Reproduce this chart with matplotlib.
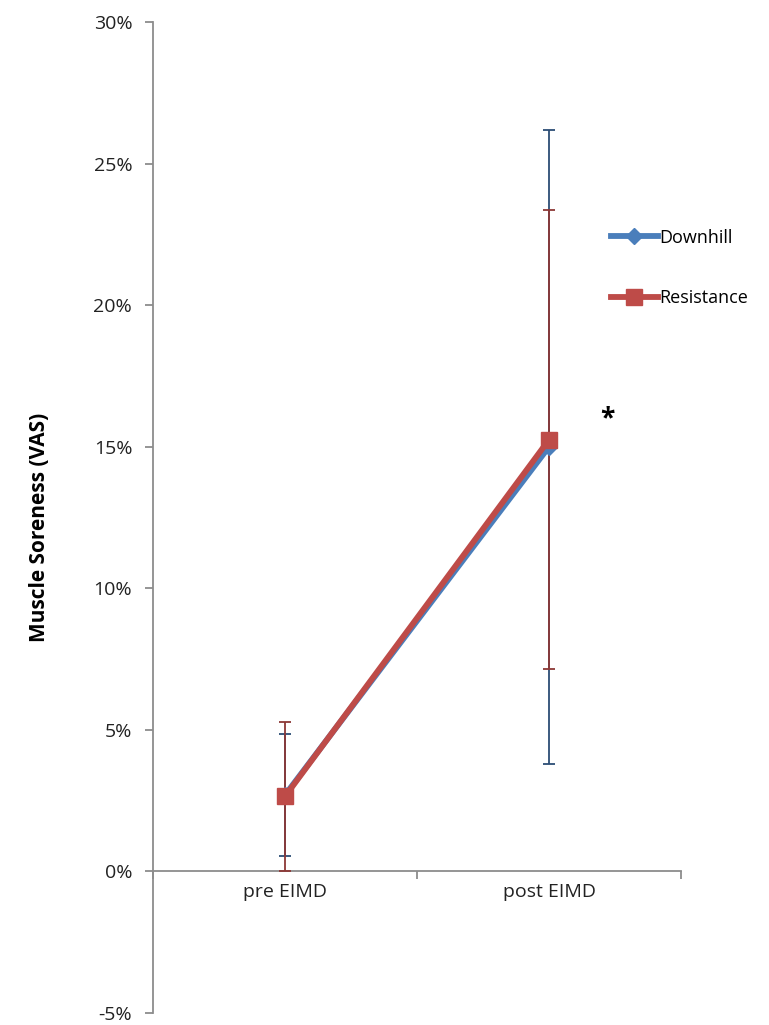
import numpy as np
import matplotlib.pyplot as plt
from matplotlib.ticker import PercentFormatter

# Data (fractions of 1)
categories = ['pre EIMD', 'post EIMD']
downhill = [0.027, 0.150]
downhill_err = [0.0215, 0.112]
resistance = [0.0265, 0.1525]
resistance_err = [0.0263, 0.081]

plt.rcParams['font.family'] = ['Open Sans', 'DejaVu Sans']
plt.rcParams['axes.unicode_minus'] = False

fig = plt.figure(figsize=(7.69, 10.25), dpi=100)
ax = fig.add_axes([0.199, 0.0117, 0.6866, 0.9668])

x = np.array([0.5, 1.5])

ax.errorbar(x, downhill, yerr=downhill_err, fmt='none', ecolor='#2C4D75',
            elinewidth=1.3, capsize=4.5, capthick=1.3, zorder=2)
ax.errorbar(x, resistance, yerr=resistance_err, fmt='none', ecolor='#8C3836',
            elinewidth=1.3, capsize=4.5, capthick=1.3, zorder=3)
ax.plot(x, downhill, color='#4A7EBB', lw=4.2, marker='D', markersize=8,
        label='Downhill', zorder=4)
ax.plot(x, resistance, color='#BE4B48', lw=4.2, marker='s', markersize=11,
        label='Resistance', zorder=5)

ax.set_xlim(0, 2)
ax.set_ylim(-0.05, 0.30)
ax.set_yticks(np.arange(-0.05, 0.301, 0.05))
ax.yaxis.set_major_formatter(PercentFormatter(1.0, decimals=0))

ax.spines['top'].set_visible(False)
ax.spines['right'].set_visible(False)
ax.spines['bottom'].set_position(('data', 0))
for s in ['left', 'bottom']:
    ax.spines[s].set_color('#8C8C8C')
    ax.spines[s].set_linewidth(1.3)

ax.set_xticks([0, 1, 2])
ax.set_xticklabels([])
ax.set_xticks(x, minor=True)
ax.set_xticklabels(categories, minor=True)
ax.tick_params(axis='x', which='major', direction='out', length=6, color='#8C8C8C', width=1.3)
ax.tick_params(axis='x', which='minor', length=0, pad=8, labelsize=14, labelcolor='#222222')
ax.tick_params(axis='y', direction='out', length=6, color='#8C8C8C', width=1.3,
               labelsize=14, labelcolor='#222222', pad=9)

ax.set_ylabel('Muscle Soreness (VAS)', fontsize=15, fontweight='bold')
ax.yaxis.set_label_coords(-0.195, 0.49)

ax.text(1.72, 0.160, '*', fontsize=19, fontweight='bold', ha='center', va='center')

ax.legend(loc='upper left', bbox_to_anchor=(0.836, 0.808), frameon=False,
          fontsize=13, handlelength=2.6, handletextpad=0.1, labelspacing=2.35)

fig.savefig('out.png', dpi=100)
